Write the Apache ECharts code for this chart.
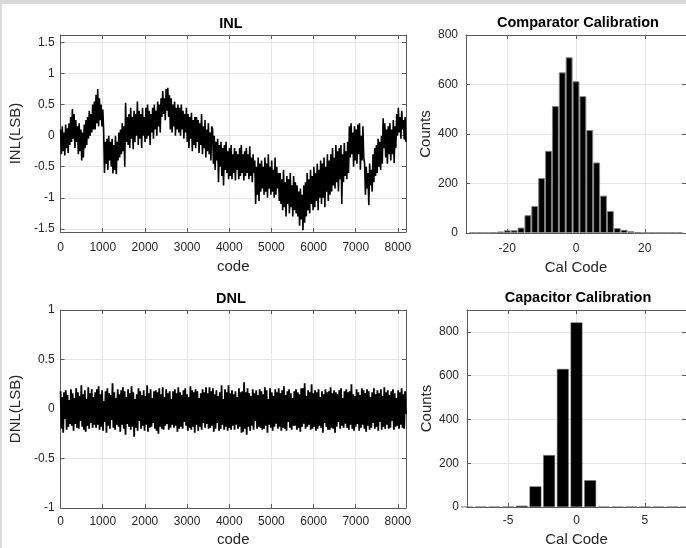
<!DOCTYPE html>
<html>
<head>
<meta charset="utf-8">
<script src="https://cdn.jsdelivr.net/npm/echarts@6/dist/echarts.min.js"></script>
<style>
html, body { margin: 0; padding: 0; background: #fff; }
#chart { width: 686px; height: 548px; }
</style>
</head>
<body>
<div id="chart"></div>
<script>
// INL(LSB), evenly spread over codes 0..8191 (one row = 200 codes)
const inlValues = [
  0.1, -0.3, 0.15, -0.25, 0.05, -0.32, 0.18, -0.2, 0.12, -0.28,
  0.2, -0.15, 0.3, -0.1, 0.43, -0.05, 0.35, -0.2, 0.25, -0.1,
  0.15, -0.3, 0.2, -0.25, 0.1, -0.4, 0.05, -0.35, 0.18, -0.2,
  0.25, -0.15, 0.3, -0.05, 0.4, 0.0, 0.35, 0.05, 0.5, 0.1,
  0.55, 0.1, 0.66, 0.2, 0.75, 0.15, 0.6, 0.25, 0.5, 0.15,
  0.42, 0.1, -0.6, -0.1, -0.45, -0.05, -0.55, 0.0, -0.4, -0.1,
  -0.5, -0.05, -0.61, -0.15, -0.55, 0.0, -0.62, -0.1, -0.4, 0.05,
  -0.35, 0.1, -0.3, 0.2, -0.25, 0.15, -0.5, 0.53, -0.1, 0.3,
  -0.15, 0.35, -0.2, 0.45, -0.05, 0.3, -0.22, 0.4, -0.1, 0.35,
  0.0, 0.55, -0.15, 0.4, -0.05, 0.35, -0.2, 0.45, 0.0, 0.3,
  -0.1, 0.45, -0.05, 0.5, 0.0, 0.4, -0.15, 0.35, 0.05, 0.45,
  -0.05, 0.5, 0.1, 0.4, 0.0, 0.55, 0.15, 0.5, 0.05, 0.6,
  0.3, 0.72, 0.35, 0.6, 0.25, 0.75, 0.4, 0.77, 0.3, 0.65,
  0.1, 0.6, 0.05, 0.5, 0.15, 0.55, 0.0, 0.45, 0.1, 0.5,
  0.05, 0.45, 0.0, 0.5, 0.1, 0.4, -0.05, 0.35, 0.05, 0.45,
  -0.1, 0.35, -0.2, 0.3, -0.05, 0.37, -0.25, 0.25, -0.15, 0.3,
  -0.2, 0.3, -0.1, 0.25, -0.28, 0.2, -0.15, 0.35, -0.3, 0.15,
  -0.2, 0.25, -0.35, 0.1, -0.25, 0.2, -0.3, 0.05, -0.4, 0.15,
  0.1, -0.45, 0.0, -0.55, -0.1, -0.4, -0.05, -0.75, -0.15, -0.5,
  -0.1, -0.65, -0.2, -0.8, -0.15, -0.55, -0.1, -0.6, -0.25, -0.7,
  -0.2, -0.65, -0.15, -0.7, -0.3, -0.6, -0.2, -0.72, -0.25, -0.55,
  -0.3, -0.7, -0.2, -0.65, -0.15, -0.6, -0.3, -0.72, -0.25, -0.65,
  -0.2, -0.6, -0.3, -0.7, -0.17, -0.65, -0.35, -0.75, -0.3, -0.6,
  -0.4, -1.1, -0.5, -0.95, -0.35, -1.05, -0.45, -0.9, -0.4, -0.85,
  -0.5, -0.95, -0.35, -0.9, -0.45, -1.0, -0.3, -0.85, -0.5, -0.95,
  -0.4, -0.9, -0.55, -1.0, -0.35, -0.95, -0.5, -0.85, -0.6, -1.05,
  -0.6, -1.1, -0.7, -1.2, -0.55, -1.15, -0.75, -1.3, -0.65, -1.1,
  -0.7, -1.25, -0.6, -1.15, -0.8, -1.3, -0.65, -1.2, -0.75, -1.25,
  -0.8, -1.3, -0.9, -1.45, -0.85, -1.35, -0.95, -1.52, -0.8, -1.4,
  -0.75, -1.3, -0.6, -1.2, -0.7, -1.25, -0.55, -1.1, -0.65, -1.2,
  -0.5, -1.15, -0.6, -1.05, -0.45, -1.2, -0.55, -1.0, -0.4, -1.1,
  -0.45, -1.0, -0.35, -1.15, -0.5, -0.9, -0.3, -1.05, -0.4, -0.95,
  -0.3, -0.9, -0.2, -0.8, -0.35, -0.85, -0.15, -0.75, -0.25, -0.9,
  -0.2, -0.7, -0.15, -1.1, -0.3, -0.75, -0.12, -0.65, -0.25, -0.7,
  -0.1, -0.6, 0.15, -0.35, 0.2, -0.3, 0.05, -0.5, 0.15, -0.4,
  0.1, -0.45, 0.18, -0.3, 0.2, -0.55, 0.0, -0.4, 0.15, -0.35,
  -0.45, -0.95, -0.5, -0.85, -0.6, -1.12, -0.45, -0.8, -0.55, -0.9,
  -0.3, -0.75, -0.2, -0.65, -0.15, -0.6, -0.05, -0.5, -0.1, -0.55,
  0.0, -0.45, 0.28, -0.2, 0.2, -0.35, 0.1, -0.45, 0.15, -0.3,
  0.2, -0.4, 0.1, -0.3, 0.25, -0.44, 0.15, -0.2, 0.35, 0.0,
  0.45, 0.05, 0.3, -0.05, 0.4, 0.1, 0.25, -0.06, 0.3, -0.1
];

// DNL(LSB), same code span
const dnlValues = [
  0.18, -0.2, 0.12, -0.24, 0.17, -0.1, 0.19, -0.21, 0.14, -0.18,
  0.09, -0.15, 0.2, -0.17, 0.16, -0.22, 0.11, -0.15, 0.21, -0.19,
  0.17, -0.2, 0.13, -0.12, 0.24, -0.18, 0.15, -0.21, 0.19, -0.23,
  0.1, -0.17, 0.22, -0.2, 0.16, -0.14, 0.2, -0.19, 0.12, -0.16,
  0.17, -0.19, 0.2, -0.16, 0.23, -0.21, 0.15, -0.18, 0.19, -0.22,
  0.08, -0.13, 0.18, -0.24, 0.21, -0.17, 0.16, -0.2, 0.14, -0.11,
  0.26, -0.19, 0.17, -0.21, 0.11, -0.16, 0.2, -0.18, 0.15, -0.23,
  0.19, -0.16, 0.22, -0.2, 0.18, -0.26, 0.12, -0.15, 0.2, -0.18,
  0.16, -0.21, 0.23, -0.18, 0.17, -0.28, 0.1, -0.19, 0.15, -0.22,
  0.21, -0.12, 0.18, -0.2, 0.14, -0.17, 0.19, -0.22, 0.13, -0.16,
  0.24, -0.23, 0.16, -0.19, 0.2, -0.18, 0.11, -0.14, 0.18, -0.2,
  0.19, -0.22, 0.17, -0.25, 0.21, -0.18, 0.15, -0.2, 0.22, -0.21,
  0.12, -0.17, 0.2, -0.15, 0.16, -0.21, 0.18, -0.19, 0.1, -0.16,
  0.18, -0.19, 0.2, -0.17, 0.16, -0.23, 0.22, -0.2, 0.17, -0.18,
  0.14, -0.2, 0.19, -0.13, 0.21, -0.17, 0.15, -0.22, 0.12, -0.19,
  0.23, -0.21, 0.19, -0.18, 0.17, -0.24, 0.2, -0.16, 0.18, -0.22,
  0.11, -0.18, 0.16, -0.21, 0.2, -0.14, 0.17, -0.19, 0.22, -0.15,
  0.16, -0.2, 0.22, -0.19, 0.18, -0.17, 0.21, -0.23, 0.15, -0.2,
  0.19, -0.14, 0.13, -0.22, 0.17, -0.2, 0.24, -0.16, 0.1, -0.21,
  0.2, -0.18, 0.17, -0.22, 0.24, -0.19, 0.16, -0.21, 0.19, -0.17,
  0.15, -0.21, 0.18, -0.16, 0.12, -0.2, 0.21, -0.18, 0.17, -0.24,
  0.18, -0.23, 0.27, -0.2, 0.17, -0.26, 0.21, -0.18, 0.16, -0.22,
  0.13, -0.17, 0.2, -0.21, 0.16, -0.12, 0.19, -0.2, 0.14, -0.18,
  0.2, -0.19, 0.18, -0.21, 0.15, -0.2, 0.22, -0.17, 0.19, -0.24,
  0.1, -0.16, 0.21, -0.19, 0.17, -0.22, 0.13, -0.18, 0.2, -0.15,
  0.17, -0.2, 0.21, -0.18, 0.16, -0.22, 0.19, -0.19, 0.23, -0.2,
  0.14, -0.22, 0.18, -0.13, 0.2, -0.19, 0.16, -0.21, 0.11, -0.17,
  0.18, -0.17, 0.2, -0.21, 0.17, -0.19, 0.15, -0.23, 0.21, -0.18,
  0.21, -0.15, 0.26, -0.2, 0.13, -0.18, 0.19, -0.16, 0.17, -0.21,
  0.25, -0.2, 0.16, -0.18, 0.19, -0.22, 0.17, -0.2, 0.2, -0.17,
  0.12, -0.19, 0.18, -0.24, 0.15, -0.14, 0.2, -0.18, 0.17, -0.21,
  0.18, -0.21, 0.22, -0.19, 0.16, -0.2, 0.19, -0.24, 0.17, -0.18,
  0.15, -0.13, 0.19, -0.2, 0.21, -0.17, 0.11, -0.19, 0.18, -0.15,
  0.2, -0.19, 0.17, -0.21, 0.18, -0.16, 0.25, -0.2, 0.15, -0.22,
  0.13, -0.18, 0.2, -0.15, 0.17, -0.22, 0.14, -0.19, 0.21, -0.16,
  0.19, -0.2, 0.16, -0.23, 0.2, -0.17, 0.18, -0.21, 0.12, -0.19,
  0.17, -0.14, 0.21, -0.2, 0.15, -0.18, 0.19, -0.22, 0.16, -0.13,
  0.2, -0.21, 0.13, -0.18, 0.22, -0.2, 0.17, -0.16, 0.19, -0.2,
  0.14, -0.19, 0.18, -0.12, 0.2, -0.21, 0.16, -0.18, 0.11, -0.17,
  0.19, -0.2, 0.17, -0.16, 0.21, -0.19, 0.15, -0.2, 0.18, -0.05
];
const lastCode = 8191;

const compCodes = [-30, -28, -26, -24, -22, -20, -18, -16, -14, -12, -10, -8, -6, -4, -2,
  0, 2, 4, 6, 8, 10, 12, 14, 16, 18, 20, 22, 24, 26, 28, 30];
const compCounts = [1, 1, 1, 2, 6, 11, 11, 22, 72, 109, 222, 332, 513, 649, 710,
  613, 553, 416, 285, 151, 89, 20, 13, 7, 3, 1, 1, 1, 1, 1, 1];

const capCodes = [-8, -7, -6, -5, -4, -3, -2, -1, 0, 1, 2, 3, 4, 5, 6, 7, 8];
const capCounts = [1, 1, 1, 1, 6, 94, 237, 631, 843, 122, 1, 1, 1, 1, 1, 1, 1];

const FONT = '"Liberation Sans", Arial, Helvetica, sans-serif';
const TXT = '#262626';
const BOX = '#5a5a5a';

var myChart = echarts.init(document.getElementById('chart'));

function spread(vals) {
  return vals.map(function (v, i) {
    return [Math.round(i * lastCode / (vals.length - 1)), v];
  });
}

function pairs(xs, ys) {
  return xs.map(function (x, i) { return [x, ys[i]]; });
}

// main axis with labels + mirrored axis for the box on the other side
function axes(kind, g, cfg) {
  var main = {
    type: 'value', gridIndex: g, min: cfg.min, max: cfg.max,
    position: kind === 'x' ? 'bottom' : 'left',
    name: cfg.name, nameLocation: 'middle', nameGap: cfg.nameGap,
    nameTextStyle: { fontFamily: FONT, fontSize: 15, color: TXT },
    axisLine: { show: true, onZero: false, lineStyle: { color: BOX, width: 1 } },
    axisTick: { show: true, inside: true, length: 4, lineStyle: { color: BOX } },
    axisLabel: {
      fontFamily: FONT, fontSize: 12, color: TXT, margin: cfg.margin,
      showMinLabel: cfg.showMin, showMaxLabel: cfg.showMax,
      formatter: function (v) { return String(v); }
    },
    splitLine: { show: true, lineStyle: { color: '#e6e6e6', width: 1 } }
  };
  if (cfg.interval !== undefined) main.interval = cfg.interval;
  if (cfg.splitNumber !== undefined) main.splitNumber = cfg.splitNumber;
  var mirror = {
    type: 'value', gridIndex: g, min: cfg.min, max: cfg.max,
    position: kind === 'x' ? 'top' : 'right',
    axisLine: { show: true, onZero: false, lineStyle: { color: BOX, width: 1 } },
    axisTick: { show: true, inside: true, length: 4, lineStyle: { color: BOX } },
    axisLabel: { show: false },
    splitLine: { show: false }
  };
  if (cfg.interval !== undefined) mirror.interval = cfg.interval;
  if (cfg.splitNumber !== undefined) mirror.splitNumber = cfg.splitNumber;
  return [main, mirror];
}

var xAxes = [].concat(
  axes('x', 0, { min: 0, max: 8192, splitNumber: 8, name: 'code', nameGap: 27, margin: 10, showMin: true, showMax: false }),
  axes('x', 1, { min: 0, max: 8192, splitNumber: 8, name: 'code', nameGap: 24, margin: 8, showMin: true, showMax: false }),
  axes('x', 2, { min: -32, max: 32, splitNumber: 3, name: 'Cal Code', nameGap: 27, margin: 10, showMin: false, showMax: false }),
  axes('x', 3, { min: -8, max: 8, splitNumber: 3, name: 'Cal Code', nameGap: 25, margin: 8, showMin: false, showMax: false })
);
var yAxes = [].concat(
  axes('y', 0, { min: -1.55, max: 1.62, splitNumber: 6, name: 'INL(LSB)', nameGap: 31, margin: 6, showMin: false, showMax: false }),
  axes('y', 1, { min: -1, max: 1, interval: 0.5, name: 'DNL(LSB)', nameGap: 31, margin: 6, showMin: true, showMax: true }),
  axes('y', 2, { min: 0, max: 800, interval: 200, name: 'Counts', nameGap: 33, margin: 8, showMin: true, showMax: true }),
  axes('y', 3, { min: 0, max: 900, interval: 200, name: 'Counts', nameGap: 33, margin: 8, showMin: true, showMax: false })
);

function title(text, x, y) {
  return {
    type: 'text', x: x, y: y, z: 10,
    style: { text: text, fill: '#000', font: 'bold 14.5px ' + FONT, align: 'center', verticalAlign: 'middle' }
  };
}

var option = {
  animation: false,
  backgroundColor: '#fff',
  grid: [
    { left: 55, top: 35, width: 351, height: 197 },
    { left: 55, top: 310, width: 351, height: 198 },
    { left: 466, top: 35, width: 225, height: 198 },
    { left: 467, top: 310, width: 222, height: 198 }
  ],
  xAxis: xAxes,
  yAxis: yAxes,
  graphic: [
    { type: 'rect', shape: { x: 0, y: 0, width: 686, height: 4 }, style: { fill: '#d9d9d9' }, z: 20 },
    { type: 'rect', shape: { x: 0, y: 0, width: 2, height: 548 }, style: { fill: '#d9d9d9' }, z: 20 },
    title('INL', 231, 24),
    title('DNL', 231, 299),
    title('Comparator Calibration', 578, 23),
    title('Capacitor Calibration', 578, 298)
  ],
  series: [
    {
      name: 'INL', type: 'line', xAxisIndex: 0, yAxisIndex: 0,
      data: spread(inlValues), showSymbol: false, symbol: 'none',
      lineStyle: { color: '#000', width: 1.6 }
    },
    {
      name: 'DNL', type: 'line', xAxisIndex: 2, yAxisIndex: 2,
      data: spread(dnlValues), showSymbol: false, symbol: 'none',
      lineStyle: { color: '#000', width: 1.8 }
    },
    {
      name: 'Comparator', type: 'bar', xAxisIndex: 4, yAxisIndex: 4,
      data: pairs(compCodes, compCounts), barWidth: '100%',
      itemStyle: { color: '#000', borderColor: '#808080', borderWidth: 1 }
    },
    {
      name: 'Capacitor', type: 'bar', xAxisIndex: 6, yAxisIndex: 6,
      data: pairs(capCodes, capCounts), barWidth: '86%',
      itemStyle: { color: '#000', borderColor: '#666', borderWidth: 0.5 }
    }
  ]
};

myChart.setOption(option);
</script>
</body>
</html>
